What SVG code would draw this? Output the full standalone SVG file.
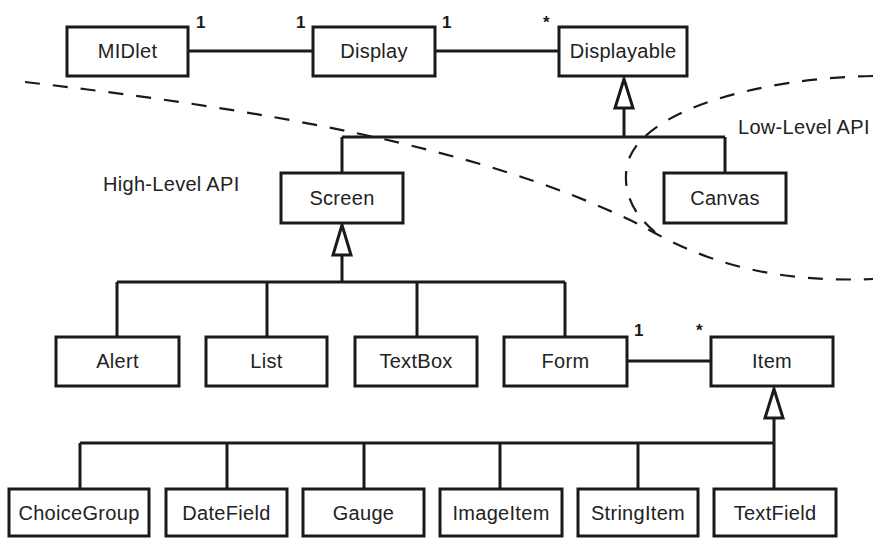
<svg xmlns="http://www.w3.org/2000/svg" width="873" height="538" viewBox="0 0 873 538">
<style>
.box{fill:#fff;stroke:#1a1a1a;stroke-width:3}
.lbl{font-family:"Liberation Sans",Arial,sans-serif;font-size:20px;letter-spacing:0.3px;fill:#222;text-anchor:middle}
.txt{font-family:"Liberation Sans",Arial,sans-serif;font-size:20px;letter-spacing:0.3px;fill:#222}
.mul{font-family:"Liberation Sans",Arial,sans-serif;font-size:17px;font-weight:bold;fill:#1a1a1a}
.ln{fill:none;stroke:#1a1a1a;stroke-width:3}
.tri{fill:#fff;stroke:#1a1a1a;stroke-width:3;stroke-linejoin:miter}
.dash{fill:none;stroke:#1a1a1a;stroke-width:2.2;stroke-dasharray:15 13}
</style>
<rect width="873" height="538" fill="#fff"/>
<g id="boundaries">
<path class="dash" d="M25 82 C250 108 480 145 640 225 C685 250 750 284 873 279"/>
<path class="dash" d="M873 76 C760 78 640 110 627 165 C622 195 635 215 655 232"/>
</g>
<g id="connectors">
<path class="ln" d="M188 51 H313 M435 51 H559"/>
<path class="ln" d="M624 108 V137 M342 137 H725 M342 137 V173 M725 137 V173"/>
<path class="ln" d="M342 255 V282 M117 282 H565 M117 282 V337 M267 282 V337 M417 282 V337 M565 282 V337"/>
<path class="ln" d="M627 361 H711"/>
<path class="ln" d="M774 418 V443 M80 443 H774 M80 443 V489 M227 443 V489 M364 443 V489 M500 443 V489 M638 443 V489 M774 443 V489"/>
<polygon class="tri" points="624,79 615,108 633,108"/>
<polygon class="tri" points="342,225 333,255 351,255"/>
<polygon class="tri" points="774,389 765,418 783,418"/>
<text class="mul" x="196" y="28">1</text>
<text class="mul" x="296" y="28">1</text>
<text class="mul" x="442" y="28">1</text>
<text class="mul" x="543" y="28">*</text>
<text class="mul" x="634" y="336">1</text>
<text class="mul" x="696" y="336">*</text>
</g>
<g id="MIDlet"><rect class="box" x="67" y="27" width="121" height="49"/><text class="lbl" x="127.5" y="58">MIDlet</text></g>
<g id="Display"><rect class="box" x="313" y="27" width="122" height="49"/><text class="lbl" x="374" y="58">Display</text></g>
<g id="Displayable"><rect class="box" x="559" y="27" width="128" height="49"/><text class="lbl" x="623" y="58">Displayable</text></g>
<g id="Screen"><rect class="box" x="281" y="173" width="122" height="50"/><text class="lbl" x="342" y="205">Screen</text></g>
<g id="Canvas"><rect class="box" x="664" y="173" width="122" height="50"/><text class="lbl" x="725" y="205">Canvas</text></g>
<g id="Alert"><rect class="box" x="56" y="337" width="123" height="49"/><text class="lbl" x="117.5" y="368">Alert</text></g>
<g id="List"><rect class="box" x="206" y="337" width="121" height="49"/><text class="lbl" x="266.5" y="368">List</text></g>
<g id="TextBox"><rect class="box" x="355" y="337" width="122" height="49"/><text class="lbl" x="416" y="368">TextBox</text></g>
<g id="Form"><rect class="box" x="504" y="337" width="123" height="49"/><text class="lbl" x="565.5" y="368">Form</text></g>
<g id="Item"><rect class="box" x="711" y="337" width="122" height="49"/><text class="lbl" x="772" y="368">Item</text></g>
<g id="ChoiceGroup"><rect class="box" x="9" y="489" width="140" height="47"/><text class="lbl" x="79" y="520">ChoiceGroup</text></g>
<g id="DateField"><rect class="box" x="166" y="489" width="121" height="47"/><text class="lbl" x="226.5" y="520">DateField</text></g>
<g id="Gauge"><rect class="box" x="303" y="489" width="121" height="47"/><text class="lbl" x="363.5" y="520">Gauge</text></g>
<g id="ImageItem"><rect class="box" x="440" y="489" width="122" height="47"/><text class="lbl" x="501" y="520">ImageItem</text></g>
<g id="StringItem"><rect class="box" x="578" y="489" width="120" height="47"/><text class="lbl" x="638" y="520">StringItem</text></g>
<g id="TextField"><rect class="box" x="714" y="489" width="122" height="47"/><text class="lbl" x="775" y="520">TextField</text></g>
<g id="labels">
<text class="txt" x="103" y="191">High-Level API</text>
<text class="txt" x="738" y="134">Low-Level API</text>
</g>
</svg>
